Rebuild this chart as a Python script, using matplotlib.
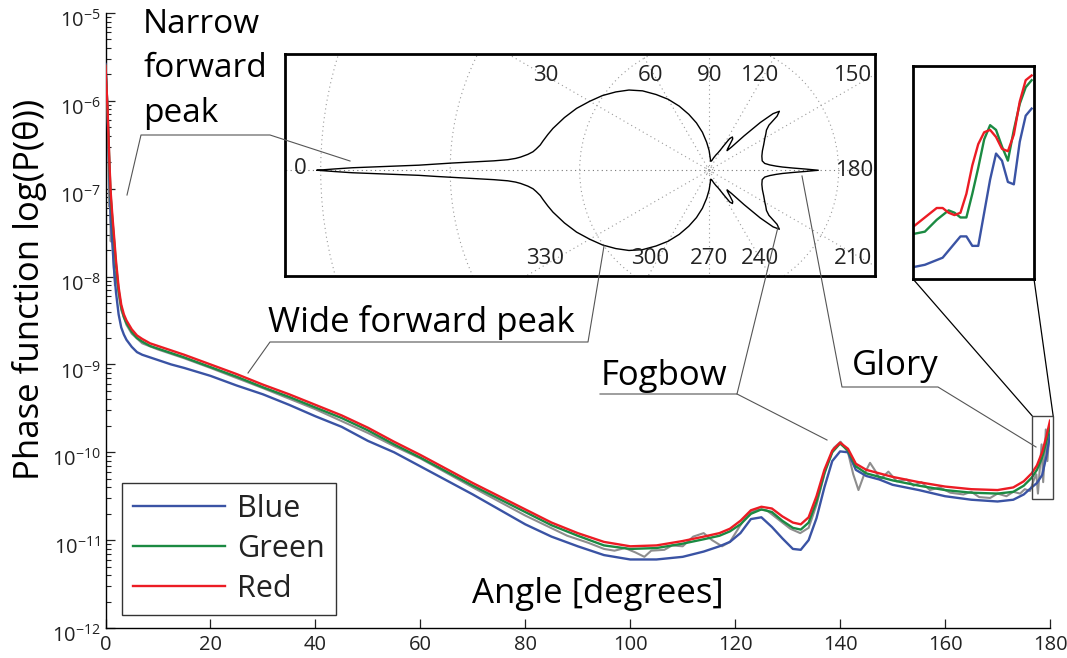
import numpy as np
import matplotlib
matplotlib.use('Agg')
import matplotlib.pyplot as plt
import matplotlib.transforms as mtrans
from matplotlib.ticker import LogLocator, NullFormatter, FixedLocator
from matplotlib.patches import Rectangle, Circle, ConnectionPatch
from matplotlib.lines import Line2D

plt.rcParams['font.family'] = ['Open Sans', 'DejaVu Sans']
plt.rcParams['mathtext.fontset'] = 'custom'
plt.rcParams['mathtext.rm'] = 'Open Sans'
plt.rcParams['mathtext.it'] = 'Open Sans:italic'
plt.rcParams['mathtext.bf'] = 'Open Sans:bold'

# ---------------- data (log10 of phase function) ----------------
angles = [0, 0.2, 0.4, 0.6, 0.8, 1.0, 1.3, 1.6, 2.0, 2.5, 3.0, 3.5, 4, 5, 6, 7, 8.5, 10,
          12.5, 15, 20, 25, 30, 35, 40, 45, 50, 55, 60, 65, 70, 75, 80, 85, 90, 95, 100,
          105, 110, 114, 117, 119, 121, 123, 125, 127, 129, 131, 132.5, 134, 135.5, 137,
          138.5, 140, 141.5, 143, 145, 147.5, 150, 155, 160, 165, 170, 173, 175, 176.5,
          177.5, 178.5, 179.3, 180]

red_log = [-5.60, -5.85, -6.10, -6.45, -6.78, -7.05, -7.30, -7.52, -7.82, -8.12, -8.32,
           -8.43, -8.50, -8.60, -8.67, -8.71, -8.76, -8.79, -8.84, -8.89, -9.00, -9.11,
           -9.23, -9.34, -9.46, -9.58, -9.72, -9.88, -10.03, -10.19, -10.35, -10.50,
           -10.65, -10.80, -10.92, -11.02, -11.07, -11.06, -11.01, -10.96, -10.92, -10.87,
           -10.78, -10.66, -10.62, -10.64, -10.73, -10.80, -10.82, -10.74, -10.50, -10.20,
           -9.98, -9.89, -9.96, -10.13, -10.20, -10.24, -10.28, -10.34, -10.39, -10.42,
           -10.43, -10.40, -10.33, -10.24, -10.15, -10.00, -9.82, -9.64]

green_log = [-5.60, -5.86, -6.12, -6.48, -6.82, -7.10, -7.35, -7.57, -7.87, -8.16, -8.35,
             -8.46, -8.53, -8.63, -8.70, -8.74, -8.79, -8.82, -8.87, -8.92, -9.03, -9.14,
             -9.26, -9.37, -9.49, -9.61, -9.75, -9.91, -10.06, -10.22, -10.38, -10.53,
             -10.68, -10.83, -10.95, -11.06, -11.10, -11.09, -11.04, -10.99, -10.95, -10.90,
             -10.82, -10.70, -10.65, -10.68, -10.78, -10.86, -10.88, -10.80, -10.56, -10.24,
             -10.00, -9.90, -9.98, -10.16, -10.24, -10.28, -10.32, -10.38, -10.43, -10.46,
             -10.47, -10.45, -10.38, -10.29, -10.20, -10.06, -9.88, -9.70]

blue_log = [-5.58, -5.85, -6.15, -6.55, -6.95, -7.35, -7.62, -7.90, -8.18, -8.43, -8.58,
            -8.66, -8.72, -8.80, -8.86, -8.89, -8.92, -8.95, -9.00, -9.04, -9.13, -9.24,
            -9.34, -9.46, -9.59, -9.71, -9.87, -10.00, -10.16, -10.32, -10.48, -10.65,
            -10.82, -10.96, -11.07, -11.17, -11.22, -11.22, -11.19, -11.13, -11.07, -11.02,
            -10.92, -10.76, -10.74, -10.85, -10.98, -11.10, -11.11, -11.00, -10.75, -10.40,
            -10.10, -9.99, -10.00, -10.20, -10.27, -10.31, -10.37, -10.43, -10.50, -10.54,
            -10.56, -10.54, -10.48, -10.40, -10.35, -10.26, -10.05, -9.80]

gray_angles = [0, 0.3, 0.5, 0.7, 0.8, 1.0, 1.2, 1.5, 1.8, 2.0, 2.5, 3, 4, 5, 7, 10, 15, 20,
               30, 40, 50, 55, 60, 70, 80, 88, 92, 95, 97, 99, 101, 102.7, 104, 106.5, 108,
               110, 112, 114, 115.6, 117.5, 119, 121, 122.5, 124.1, 126, 127.5, 129, 130.5,
               132.4, 134, 135.5, 137.3, 138.8, 140.1, 141.5, 142.5, 143.5, 144.6, 145.7,
               146.8, 147.6, 149.2, 150.8, 152.7, 154, 155.5, 157.1, 159, 161, 163.5, 165,
               166.5, 168.6, 170, 171.7, 173, 174.3, 175.2, 176.2, 177.0, 177.4, 177.7,
               178.1, 178.4, 178.7, 179.0, 179.2, 179.5, 179.8, 180]
gray_log = [-5.62, -6.00, -6.50, -7.20, -6.90, -7.60, -7.30, -7.80, -8.10, -7.95, -8.20,
            -8.38, -8.55, -8.65, -8.76, -8.83, -8.93, -9.04, -9.27, -9.51, -9.78, -9.93,
            -10.07, -10.40, -10.72, -10.95, -11.03, -11.10, -11.12, -11.09, -11.14, -11.19,
            -11.12, -11.11, -11.06, -11.07, -10.96, -10.92, -11.00, -11.07, -11.02, -10.83,
            -10.70, -10.65, -10.66, -10.73, -10.80, -10.87, -10.92, -10.86, -10.60, -10.18,
            -9.95, -9.88, -10.00, -10.25, -10.43, -10.25, -10.12, -10.22, -10.31, -10.22,
            -10.33, -10.31, -10.38, -10.34, -10.43, -10.40, -10.46, -10.48, -10.45, -10.51,
            -10.52, -10.47, -10.50, -10.45, -10.47, -10.42, -10.44, -10.30, -10.25, -10.47,
            -10.15, -9.91, -10.34, -10.00, -9.74, -10.10, -9.85, -9.75]

# zoomed detail near 180 degrees
inset_angles = [177.5, 177.75, 178.0, 178.125, 178.25, 178.375, 178.5, 178.625, 178.75,
                178.875, 179.0, 179.125, 179.25, 179.375, 179.5, 179.625, 179.75, 179.875, 180.0]
inset_red_log = [-10.23, -10.19, -10.15, -10.15, -10.17, -10.18, -10.17, -10.09, -9.97,
                 -9.88, -9.83, -9.82, -9.85, -9.90, -9.91, -9.84, -9.70, -9.61, -9.59]
inset_green_log = [-10.26, -10.25, -10.20, -10.18, -10.16, -10.17, -10.19, -10.19, -10.09,
                   -9.98, -9.86, -9.80, -9.82, -9.89, -9.95, -9.82, -9.71, -9.64, -9.61]
inset_blue_log = [-10.40, -10.39, -10.37, -10.36, -10.33, -10.30, -10.27, -10.27, -10.31,
                  -10.31, -10.17, -10.03, -9.92, -9.95, -10.04, -10.05, -9.87, -9.76, -9.73]

series_names = ['Blue', 'Green', 'Red']
x_ticks = [0, 20, 40, 60, 80, 100, 120, 140, 160, 180]
y_decades = [-12, -11, -10, -9, -8, -7, -6, -5]
polar_labels_top = ['30', '60', '90', '120', '150']
polar_labels_bottom = ['330', '300', '270', '240', '210']

C_BLUE, C_GREEN, C_RED, C_GRAY = '#3A53A4', '#1B8A42', '#EC1C24', '#8E8E8E'

# ---------------- figure ----------------
W, H = 1067, 658
fig = plt.figure(figsize=(W / 100, H / 100), dpi=100)


def P(px, py):
    return (px / W, 1 - py / H)


def box(x0, y0, x1, y1):
    return [x0 / W, 1 - y1 / H, (x1 - x0) / W, (y1 - y0) / H]


ax = fig.add_axes(box(105.5, 13, 1050, 628))
to_p = lambda a: 10.0 ** np.asarray(a)
ax.plot(gray_angles, to_p(gray_log), color=C_GRAY, lw=1.5, zorder=2)
lb, = ax.plot(angles, to_p(blue_log), color=C_BLUE, lw=1.7, zorder=3)
lg, = ax.plot(angles, to_p(green_log), color=C_GREEN, lw=1.7, zorder=4)
lr, = ax.plot(angles, to_p(red_log), color=C_RED, lw=1.7, zorder=5)
ax.set_yscale('log')
ax.set_xlim(0, 180)
ax.set_ylim(10.0 ** y_decades[0], 10.0 ** y_decades[-1])
for s in ['top', 'right']:
    ax.spines[s].set_visible(False)
for s in ['left', 'bottom']:
    ax.spines[s].set_linewidth(1.0)
ax.xaxis.set_major_locator(FixedLocator(x_ticks))
ax.yaxis.set_major_locator(FixedLocator(to_p(y_decades)))
ax.yaxis.set_minor_locator(LogLocator(base=10, subs=np.arange(2, 10), numticks=20))
ax.yaxis.set_minor_formatter(NullFormatter())
ax.tick_params(axis='both', which='major', direction='in', length=6.5, width=0.9, color='#222')
ax.tick_params(axis='y', which='minor', direction='in', length=3.6, width=0.8, color='#222')
ax.tick_params(axis='x', labelsize=14.5, pad=5, labelcolor='#222')
ax.tick_params(axis='y', labelleft=False)

# y tick labels (MATLAB style: "10" sits a little below the tick)
ylab_tr = mtrans.blended_transform_factory(ax.transAxes, ax.transData) + \
    mtrans.ScaledTranslation(-5 / 100, -8 / 100, fig.dpi_scale_trans)
for k in y_decades:
    ax.text(0, 10.0 ** k, r'$10^{%d}$' % k, transform=ylab_tr, ha='right', va='center',
            fontsize=14.5, color='#222')

leg = ax.legend([lb, lg, lr], series_names, loc='lower left',
                bbox_to_anchor=P(122, 615), bbox_transform=fig.transFigure,
                fontsize=22, handlelength=3.0, handletextpad=0.4, labelspacing=0.32,
                borderpad=0.37, borderaxespad=0, fancybox=False, framealpha=1)
leg.get_frame().set_edgecolor('#333')
leg.get_frame().set_linewidth(1.0)
for t in leg.get_texts():
    t.set_color('#222')

# axis labels
fig.text(*P(30, 289), 'Phase function log(P(θ))', rotation=90, ha='center', va='center',
         fontsize=25)
fig.text(*P(472, 603), 'Angle [degrees]', ha='left', va='baseline', fontsize=25)

# annotations
TXT = dict(fontsize=24, ha='left', va='baseline', color='black')
fig.text(*P(143, 33), 'Narrow', **TXT)
fig.text(*P(143, 77), 'forward', **TXT)
fig.text(*P(143, 122), 'peak', **TXT)
TXT['fontsize'] = 25
fig.text(*P(268, 332), 'Wide forward peak', **TXT)
fig.text(*P(601, 385), 'Fogbow', **TXT)
fig.text(*P(852, 375), 'Glory', **TXT)


def leader(pts, color='#555', lw=0.8, z=10):
    xs = [p[0] / W for p in pts]
    ys = [1 - p[1] / H for p in pts]
    fig.add_artist(Line2D(xs, ys, transform=fig.transFigure, color=color, lw=lw, zorder=z))


# ---------------- polar inset ----------------
pax = fig.add_axes(box(285, 54, 875, 276), zorder=5)
pax.set_facecolor('white')
R0 = -11.2
th = np.deg2rad(np.asarray(angles))
rr = np.asarray(red_log) - R0
xu, yu = -rr * np.cos(th), rr * np.sin(th)
px_ = np.concatenate([xu, xu[::-1]])
py_ = np.concatenate([yu, -yu[::-1]])
for rad in [1.85, 3.7, 5.55, 7.4]:
    pax.add_patch(Circle((0, 0), rad, fill=False, ls=(0, (1, 3)), color='#9a9a9a', lw=0.8))
pax.add_patch(Circle((0, 0), 0.05, fill=False, ls=(0, (1, 1.5)), color='#9a9a9a', lw=0.8))
for a in range(0, 360, 30):
    t = np.deg2rad(a)
    col = '#777' if a in (0, 180) else '#9a9a9a'
    pax.plot([0, -9 * np.cos(t)], [0, 9 * np.sin(t)], ls=(0, (1, 3)), color=col, lw=0.8)
pax.plot(px_, py_, color='black', lw=1.0)
pax.set_xlim(-6.06, 2.37)
pax.set_ylim(-1.51, 1.66)
pax.set_xticks([])
pax.set_yticks([])
for s in pax.spines.values():
    s.set_linewidth(2.0)
PL = dict(fontsize=16, ha='center', va='center', color='#222')
xs_lab = [-2.34, -0.84, 0.0, 0.73, 2.06]
for xl, lt, lbt in zip(xs_lab, polar_labels_top, polar_labels_bottom):
    pax.text(xl, 1.36, lt, **PL)
    pax.text(xl, -1.26, lbt, **PL)
pax.text(-5.84, 0.02, '0', **PL)
pax.text(2.09, 0.0, '180', **PL)

# ---------------- zoom inset ----------------
zax = fig.add_axes(box(913, 66, 1034, 279), zorder=5)
zax.plot(inset_angles, to_p(inset_blue_log), color=C_BLUE, lw=1.7)
zax.plot(inset_angles, to_p(inset_green_log), color=C_GREEN, lw=1.7)
zax.plot(inset_angles, to_p(inset_red_log), color=C_RED, lw=1.7)
zax.set_yscale('log')
zax.set_xlim(177.5, 180.05)
zax.set_ylim(10 ** -10.45, 10 ** -9.55)
zax.set_xticks([])
zax.set_yticks([])
zax.minorticks_off()
zax.tick_params(which='both', left=False, bottom=False, labelleft=False, labelbottom=False)
for s in zax.spines.values():
    s.set_linewidth(2.0)

# zoom rectangle on main axes (data coords)
rx0, rx1, ry0, ry1 = 176.6, 180.6, 10 ** -10.53, 10 ** -9.585
ax.add_patch(Rectangle((rx0, ry0), rx1 - rx0, ry1 - ry0, fill=False, ec='#444', lw=1.0,
                       clip_on=False, zorder=6))
for xa, xb in [(rx0, 0), (rx1, 1)]:
    cp = ConnectionPatch(xyA=(xa, ry1), coordsA=ax.transData, xyB=(xb, 0),
                         coordsB=zax.transAxes, color='black', lw=0.9)
    fig.add_artist(cp)

# leader lines
leader([(127, 195), (141, 135), (270, 135), (350, 161)])
leader([(248, 373), (270, 342), (588, 342), (604, 246)])
leader([(778, 227), (737, 394), (600, 394)])
leader([(737, 394), (827, 440)])
leader([(802, 176), (842, 387), (938, 387), (1036, 447)])

fig.savefig('out.png', dpi=100)
